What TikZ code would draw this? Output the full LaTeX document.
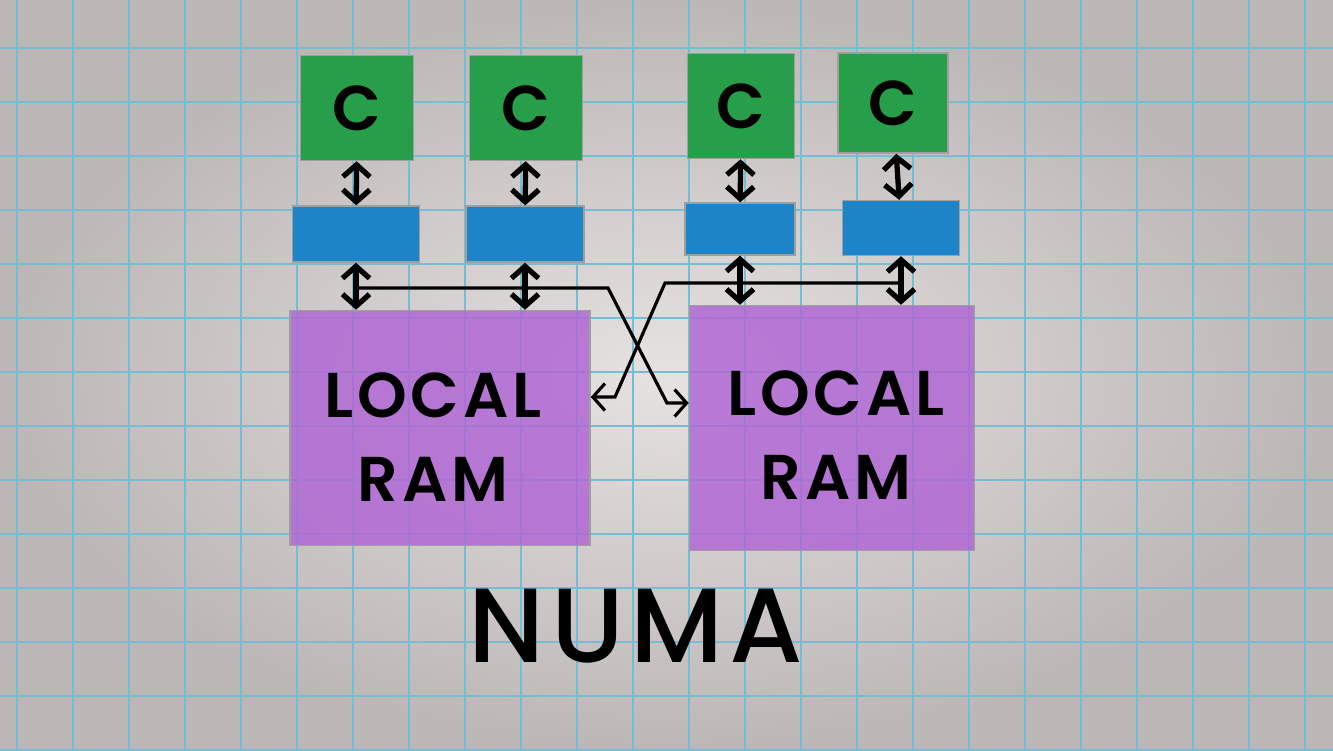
\documentclass[tikz,border=0pt]{standalone}
\usepackage{fontspec}
\newfontfamily\handfont{Poppins}[UprightFont=* SemiBold, LetterSpace=6]
\newfontfamily\titlefont{Poppins}[UprightFont=* Medium, LetterSpace=6]
\usetikzlibrary{arrows.meta, positioning}

\definecolor{paperLight}{RGB}{230,226,225}
\definecolor{paperDark}{RGB}{188,183,182}
\definecolor{gridBlue}{RGB}{115,190,210}
\definecolor{coreGreen}{RGB}{38,158,74}
\definecolor{cacheBlue}{RGB}{30,132,200}
\definecolor{ramPurple}{RGB}{176,104,212}

\begin{document}
\begin{tikzpicture}[
        x=0.01cm, y=-0.01cm,
        font=\handfont,
        >={Straight Barb[length=1.2mm, width=2.7mm]},
        % styles
        box/.style={rectangle, draw=gray!75, line width=0.4pt, inner sep=0pt},
        coreBox/.style={box, fill=coreGreen, minimum width=1.13cm, minimum height=1.05cm, font=\handfont\fontsize{18}{20}\selectfont},
        cacheBox/.style={box, fill=cacheBlue, minimum width=1.18cm, minimum height=0.56cm},
        ramBox/.style={box, fill=ramPurple, fill opacity=0.85},
        ramText/.style={align=center, font=\handfont\fontsize{18}{24}\selectfont},
        gridline/.style={draw=gridBlue, line width=0.75pt},
        link/.style={<->, line width=1.5pt, draw=black},
        bus/.style={->, line width=0.9pt, draw=black}
    ]

    % paper
    \shade [inner color=paperLight, outer color=paperDark] (0,0) rectangle (1333,750);
    \useasboundingbox (0,0) rectangle (1333,750);
    \foreach \gx in {17,73,...,1333}
        \draw [gridline] (\gx,0) -- (\gx,750);
    \foreach \gy in {48,102,...,750}
        \draw [gridline] (0,\gy) -- (1333,\gy);

    % cores
    \node [coreBox] (core1) at (357,108) {C};
    \node [coreBox] (core2) at (526,108) {C};
    \node [coreBox, minimum width=1.07cm, minimum height=1.05cm] (core3) at (741,106) {C};
    \node [coreBox, minimum width=1.1cm, minimum height=1.0cm] (core4) at (893,103) {C};

    % caches
    \node [cacheBox, minimum width=1.27cm] (cache1) at (356,234) {};
    \node [cacheBox] (cache2) at (525,234) {};
    \node [cacheBox, minimum width=1.1cm, minimum height=0.52cm] (cache3) at (740,229) {};
    \node [cacheBox, minimum width=1.17cm, minimum height=0.55cm] (cache4) at (901,228) {};

    % memories
    \node [ramBox, minimum width=3.0cm, minimum height=2.35cm] (ramL) at (440,428) {};
    \node [ramBox, minimum width=2.85cm, minimum height=2.45cm] (ramR) at (832,428) {};
    \node [ramText] (textL) at (433,437) {LOCAL\\RAM};
    \node [ramText] (textR) at (836,435) {LOCAL\\RAM};

    % title
    \node [font=\titlefont\fontsize{30}{36}\selectfont] (title) at (636,626) {NUMA};

    % core <-> cache
    \foreach \i in {1,...,4}
        \draw [link] (core\i) -- (cache\i);

    % cache <-> local ram
    \draw [link] (cache1.south) -- (cache1.south |- ramL.north);
    \draw [link] (cache2.south) -- (cache2.south |- ramL.north);
    \draw [link] (cache3.south) -- (cache3.south |- ramR.north);
    \draw [link] (cache4.south) -- (cache4.south |- ramR.north);

    % crossing buses to the remote ram
    \coordinate (busL) at (cache1.south |- 0,288);
    \coordinate (busR) at (cache4.south |- 0,283);
    \coordinate (inR) at (ramR.west |- 0,403);
    \coordinate (inL) at (ramL.east |- 0,397);
    \draw [bus] (busL) -- (608,288) -- (667,403) -- (inR);
    \draw [bus] (busR) -- (665,283) -- (615,397) -- (inL);

\end{tikzpicture}
\end{document}
